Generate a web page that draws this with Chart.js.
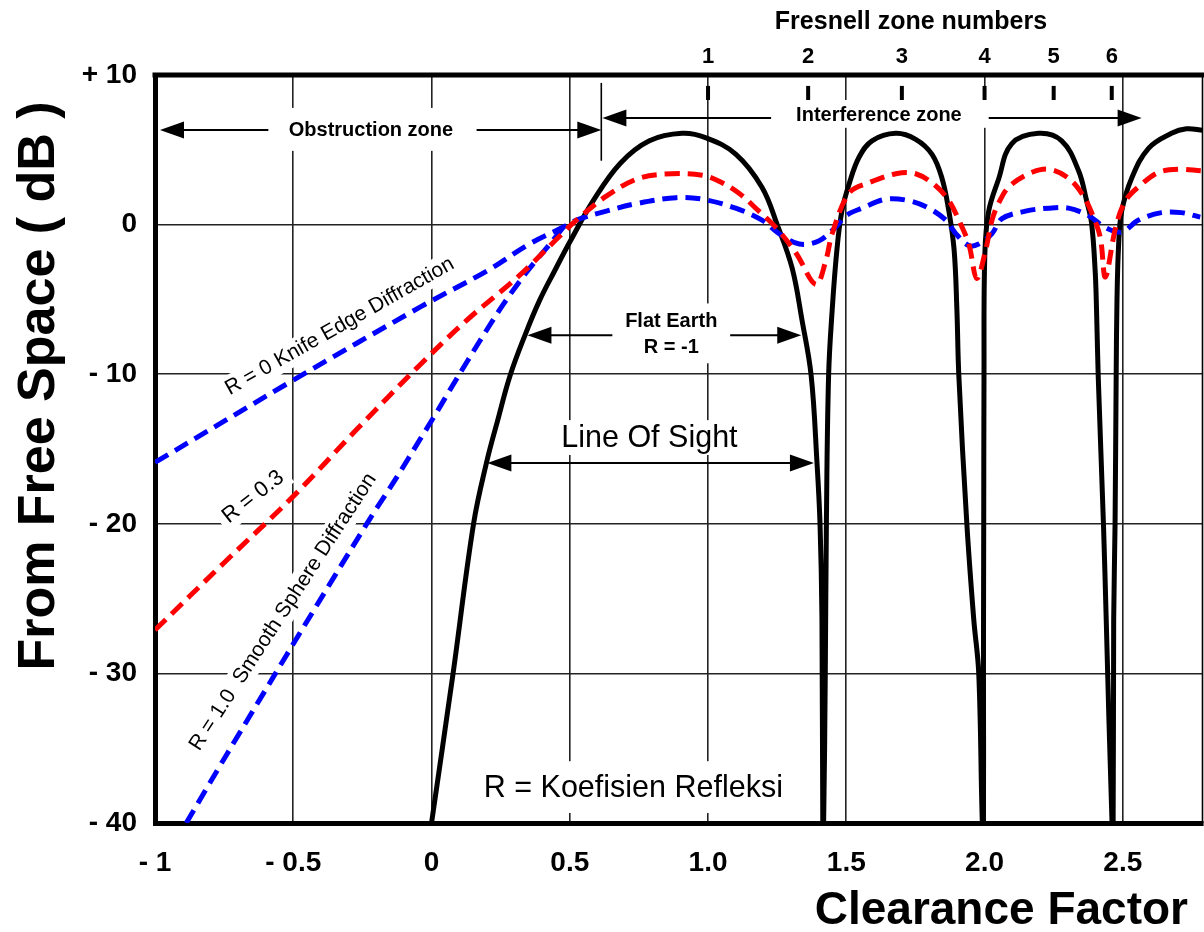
<!DOCTYPE html>
<html>
<head>
<meta charset="utf-8">
<script src="https://cdn.jsdelivr.net/npm/chart.js@4.4.1/dist/chart.umd.min.js"></script>
<style>
  html, body { margin: 0; padding: 0; background: #fff; }
  #wrap { width: 1204px; height: 932px; }
</style>
</head>
<body>
<div id="wrap"><canvas id="chart"></canvas></div>
<script>
const xTicks = [-1, -0.5, 0, 0.5, 1, 1.5, 2, 2.5];
const xTickLabels = ['- 1', '- 0.5', '0', '0.5', '1.0', '1.5', '2.0', '2.5'];
const yTicks = [10, 0, -10, -20, -30, -40];
const yTickLabels = ['+ 10', '0', '- 10', '- 20', '- 30', '- 40'];
const zoneNumbers = ['1', '2', '3', '4', '5', '6'];
const zonePositions = [1.0, 1.362, 1.701, 2.0, 2.25, 2.46];

// R = -1 (flat earth)
const flatEarthX = [0.000, 0.078, 0.152, 0.199, 0.239, 0.284, 0.340, 0.390, 0.445, 0.502, 0.585, 0.683, 0.788, 0.906, 0.993, 1.101, 1.195, 1.25, 1.304, 1.34, 1.373, 1.394, 1.405, 1.412, 1.415,
  1.418, 1.424, 1.428, 1.436, 1.449, 1.466, 1.484, 1.51, 1.546, 1.593, 1.679, 1.751, 1.81, 1.846, 1.871, 1.89, 1.9, 1.907, 1.936, 1.961, 1.979, 1.992,
  1.996, 1.996, 1.997, 1.998, 2.001, 2.015, 2.05, 2.098, 2.195, 2.279, 2.34, 2.369, 2.387, 2.4, 2.405, 2.411, 2.43, 2.44, 2.461,
  2.465, 2.467, 2.472, 2.476, 2.479, 2.485, 2.496, 2.532, 2.593, 2.676, 2.73, 2.79];
const flatEarthY = [-40, -30, -20, -15.9, -13.1, -10.1, -7.3, -5.1, -3.1, -1.1, 1.6, 4.1, 5.6, 6.1, 5.8, 4.7, 2.5, 0, -2.9, -6.4, -10.1, -15.9, -20, -26.4, -40,
  -40, -30, -20, -10.1, -5.7, -1.7, 0.9, 2.7, 4.5, 5.6, 6.1, 5.7, 4.7, 3.1, 0.9, -1.7, -5.7, -10.1, -20, -26.4, -30, -40,
  -40, -30, -20, -10.1, -2, 0.9, 3.0, 5.4, 6.1, 5.6, 3.6, 1.6, 0.1, -3.1, -5.7, -10.1, -20, -26.4, -40,
  -40, -26.4, -20, -10.1, -5, -1.3, 0.9, 3.1, 5.1, 6.1, 6.4, 6.3];

// R = 0.3
const r03X = [-1.0, -0.75, -0.502, -0.271, -0.043, 0.127, 0.318, 0.462, 0.524, 0.632, 0.751, 0.87, 0.979, 1.04, 1.112, 1.184, 1.246, 1.318, 1.39, 1.426, 1.449, 1.51, 1.582, 1.679, 1.751, 1.823, 1.871, 1.907, 1.943, 1.972, 2.004, 2.027, 2.05, 2.087, 2.16, 2.232, 2.304, 2.358, 2.394, 2.419, 2.437, 2.474, 2.51, 2.568, 2.63, 2.702, 2.782];
const r03Y = [-27.1, -22.6, -18.2, -13.7, -9.4, -6.4, -3.4, -0.8, 0.3, 1.9, 3.1, 3.4, 3.3, 2.9, 2.1, 0.9, -0.2, -1.9, -4.0, -2.4, -0.6, 2.1, 2.8, 3.4, 3.4, 2.6, 1.6, 0.3, -1.3, -3.6, -1.7, 0.3, 1.4, 2.5, 3.4, 3.7, 3.1, 1.9, 0.5, -0.9, -3.5, -0.2, 1.6, 2.7, 3.5, 3.7, 3.6];

// R = 0 knife edge
const knifeX = [-1.0, -0.5, -0.04, 0.2, 0.354, 0.473, 0.524, 0.632, 0.74, 0.885, 0.979, 1.1, 1.195, 1.257, 1.33, 1.40, 1.46, 1.499, 1.557, 1.643, 1.726, 1.798, 1.86, 1.896, 1.943, 1.979, 2.027, 2.063, 2.148, 2.232, 2.304, 2.376, 2.437, 2.496, 2.557, 2.64, 2.712, 2.78];
const knifeY = [-15.9, -10.4, -5.5, -3.1, -1.3, -0.2, 0.3, 0.9, 1.4, 1.8, 1.7, 1.1, 0.3, -0.6, -1.3, -1.1, -0.2, 0.6, 1.1, 1.7, 1.6, 1.1, 0.3, -0.6, -1.4, -1.3, -0.6, 0.4, 0.9, 1.1, 1.1, 0.6, -0.2, -0.5, 0.3, 0.8, 0.8, 0.5];

// R = 1.0 smooth sphere
const sphereX = [-0.887, -0.740, -0.574, -0.476, -0.224, -0.126, -0.043, 0.004, 0.091, 0.174, 0.257, 0.343, 0.437, 0.488];
const sphereY = [-40, -35.4, -30.3, -27.3, -19.7, -16.9, -14.4, -13.0, -10.3, -7.8, -5.4, -3.2, -1.1, 0.1];

const FONT = "'Liberation Sans', Arial, Helvetica, sans-serif";
const zip = (xs, ys) => xs.map((x, i) => ({ x, y: ys[i] }));

function arrowHead(ctx, x, y, dir) {
  ctx.beginPath();
  ctx.moveTo(x, y);
  ctx.lineTo(x - dir * 24, y - 8.5);
  ctx.lineTo(x - dir * 24, y + 8.5);
  ctx.closePath();
  ctx.fill();
}

function arrow(ctx, x1, x2, y, both) {
  const dir = Math.sign(x2 - x1);
  ctx.beginPath();
  ctx.moveTo(both ? x1 + dir * 20 : x1, y);
  ctx.lineTo(x2 - dir * 20, y);
  ctx.stroke();
  arrowHead(ctx, x2, y, dir);
  if (both) arrowHead(ctx, x1, y, -dir);
}

function whiteBox(ctx, x1, y1, x2, y2) {
  ctx.fillStyle = '#fff';
  ctx.fillRect(Math.min(x1, x2), Math.min(y1, y2), Math.abs(x2 - x1), Math.abs(y2 - y1));
}

function rotatedLabel(ctx, text, cx, cy, deg, font, size) {
  ctx.save();
  ctx.translate(cx, cy);
  ctx.rotate(deg * Math.PI / 180);
  ctx.font = font;
  const w = ctx.measureText(text).width;
  ctx.fillStyle = '#fff';
  ctx.fillRect(-w / 2 - 6, -size * 0.62, w + 12, size * 1.24);
  ctx.fillStyle = '#000';
  ctx.textAlign = 'center';
  ctx.textBaseline = 'middle';
  ctx.fillText(text, 0, 0);
  ctx.restore();
}

const annotations = {
  id: 'annotations',
  beforeDatasetsDraw(chart) {
    const { ctx, chartArea: a, scales: { x, y } } = chart;
    const X = v => x.getPixelForValue(v);
    const Y = v => y.getPixelForValue(v);
    ctx.save();

    // label boxes cut the grid
    whiteBox(ctx, X(-0.567), Y(7.8), X(0.138), Y(4.93));
    whiteBox(ctx, X(1.293), Y(8.33), X(2.008), Y(6.47));
    whiteBox(ctx, X(0.662), Y(-5.27), X(1.073), Y(-9.27));
    whiteBox(ctx, X(0.445), Y(-13.07), X(1.13), Y(-15.4));
    whiteBox(ctx, X(0.174), Y(-35.87), X(1.293), Y(-39.33));

    ctx.fillStyle = '#000';
    ctx.textAlign = 'center';
    ctx.textBaseline = 'alphabetic';
    ctx.font = 'bold 20px ' + FONT;
    ctx.fillText('Obstruction zone', X(-0.219), Y(5.93));
    ctx.fillText('Interference zone', X(1.618), Y(6.93));
    ctx.fillText('Flat Earth', X(0.867), Y(-6.87));
    ctx.fillText('R = -1', X(0.867), Y(-8.6));
    ctx.font = '30.5px ' + FONT;
    ctx.fillText('Line Of Sight', X(0.788), Y(-14.87));
    ctx.fillText('R = Koefisien Refleksi', X(0.73), Y(-38.27));

    // arrows
    ctx.strokeStyle = '#000';
    ctx.fillStyle = '#000';
    ctx.lineWidth = 2;
    arrow(ctx, X(-0.59), X(-0.982), Y(6.33));
    arrow(ctx, X(0.163), X(0.614), Y(6.33));
    arrow(ctx, X(1.228), X(0.618), Y(7.13));
    arrow(ctx, X(2.015), X(2.568), Y(7.13));
    arrow(ctx, X(0.654), X(0.347), Y(-7.4));
    arrow(ctx, X(1.08), X(1.337), Y(-7.4));
    arrow(ctx, X(0.202), X(1.383), Y(-15.93), true);

    // zone boundary
    ctx.lineWidth = 1.6;
    ctx.beginPath();
    ctx.moveTo(X(0.614), Y(9.47));
    ctx.lineTo(X(0.614), Y(4.27));
    ctx.stroke();

    // rotated curve labels
    rotatedLabel(ctx, 'R = 0 Knife Edge Diffraction', X(-0.332), Y(-6.8), -29.5, '21px ' + FONT, 21);
    rotatedLabel(ctx, 'R = 0.3', X(-0.645), Y(-18.2), -38, '22px ' + FONT, 22);
    rotatedLabel(ctx, 'R = 1.0  Smooth Sphere Diffraction', X(-0.537), Y(-25.9), -57, '21px ' + FONT, 21);

    // fresnel zone ticks
    ctx.lineWidth = 4;
    zonePositions.forEach(v => {
      ctx.beginPath();
      ctx.moveTo(X(v), Y(9.27));
      ctx.lineTo(X(v), Y(8.33));
      ctx.stroke();
    });

    // frame top and right
    ctx.lineWidth = 5;
    ctx.beginPath();
    ctx.moveTo(a.left - 2.5, a.top);
    ctx.lineTo(a.right + 1, a.top);
    ctx.stroke();
    ctx.lineWidth = 1.6;
    ctx.beginPath();
    ctx.moveTo(a.right - 0.5, a.top);
    ctx.lineTo(a.right - 0.5, a.bottom);
    ctx.stroke();
    ctx.restore();
  },
  afterDraw(chart) {
    const { ctx, scales: { x, y } } = chart;
    const X = v => x.getPixelForValue(v);
    const Y = v => y.getPixelForValue(v);
    ctx.save();
    ctx.fillStyle = '#000';
    ctx.textAlign = 'center';
    ctx.font = 'bold 25px ' + FONT;
    ctx.fillText('Fresnell zone numbers', X(1.734), Y(13.07));
    ctx.font = 'bold 22px ' + FONT;
    zonePositions.forEach((v, i) => ctx.fillText(zoneNumbers[i], X(v), Y(10.8)));

    ctx.font = 'bold 46px ' + FONT;
    ctx.textAlign = 'right';
    ctx.fillText('Clearance Factor', 1188, 924);

    ctx.translate(54, 386);
    ctx.rotate(-Math.PI / 2);
    ctx.textAlign = 'center';
    ctx.font = 'bold 52px ' + FONT;
    ctx.fillText('From Free Space ( dB )', 0, 0);
    ctx.restore();
  }
};

const dashed = [15, 8];

new Chart(document.getElementById('chart'), {
  type: 'scatter',
  data: {
    datasets: [
      {
        label: 'R = 0.3',
        data: zip(r03X, r03Y),
        showLine: true,
        borderColor: '#ff0000',
        borderWidth: 5,
        borderDash: dashed,
        pointRadius: 0,
        tension: 0.35
      },
      {
        label: 'R = 0 Knife Edge Diffraction',
        data: zip(knifeX, knifeY),
        showLine: true,
        borderColor: '#0000ff',
        borderWidth: 5,
        borderDash: dashed,
        pointRadius: 0,
        tension: 0.35
      },
      {
        label: 'R = 1.0 Smooth Sphere Diffraction',
        data: zip(sphereX, sphereY),
        showLine: true,
        borderColor: '#0000ff',
        borderWidth: 5,
        borderDash: dashed,
        pointRadius: 0,
        tension: 0.3
      },
      {
        label: 'Flat Earth R = -1',
        data: zip(flatEarthX, flatEarthY),
        showLine: true,
        borderColor: '#000000',
        borderWidth: 5,
        pointRadius: 0,
        tension: 0.38
      }
    ]
  },
  options: {
    responsive: true,
    maintainAspectRatio: false,
    animation: false,
    layout: { padding: { top: 75, right: 1, left: 0, bottom: 0 } },
    plugins: { legend: { display: false }, tooltip: { enabled: false } },
    scales: {
      x: {
        type: 'linear',
        min: -1,
        max: 2.79,
        afterFit: s => { s.height = 109; },
        afterBuildTicks: s => { s.ticks = xTicks.map(v => ({ value: v })); },
        grid: {
          color: c => (c.tick && c.tick.value === -1 ? 'rgba(0,0,0,0)' : '#222'),
          lineWidth: 1.6,
          drawTicks: false
        },
        border: { display: true, color: '#000', width: 5 },
        ticks: {
          color: '#000',
          padding: 23,
          maxRotation: 0,
          autoSkip: false,
          font: { family: FONT, size: 28, weight: 'bold' },
          callback: (v, i) => xTickLabels[i]
        }
      },
      y: {
        min: -40,
        max: 10,
        afterFit: s => { s.width = 155; },
        afterBuildTicks: s => { s.ticks = yTicks.map(v => ({ value: v })); },
        grid: {
          color: c => (c.tick && (c.tick.value === -40 || c.tick.value === 10) ? 'rgba(0,0,0,0)' : '#222'),
          lineWidth: 1.6,
          drawTicks: false
        },
        border: { display: true, color: '#000', width: 5 },
        ticks: {
          color: '#000',
          padding: 18,
          font: { family: FONT, size: 28, weight: 'bold' },
          callback: (v, i) => yTickLabels[i]
        }
      }
    }
  },
  plugins: [annotations]
});
</script>
</body>
</html>
